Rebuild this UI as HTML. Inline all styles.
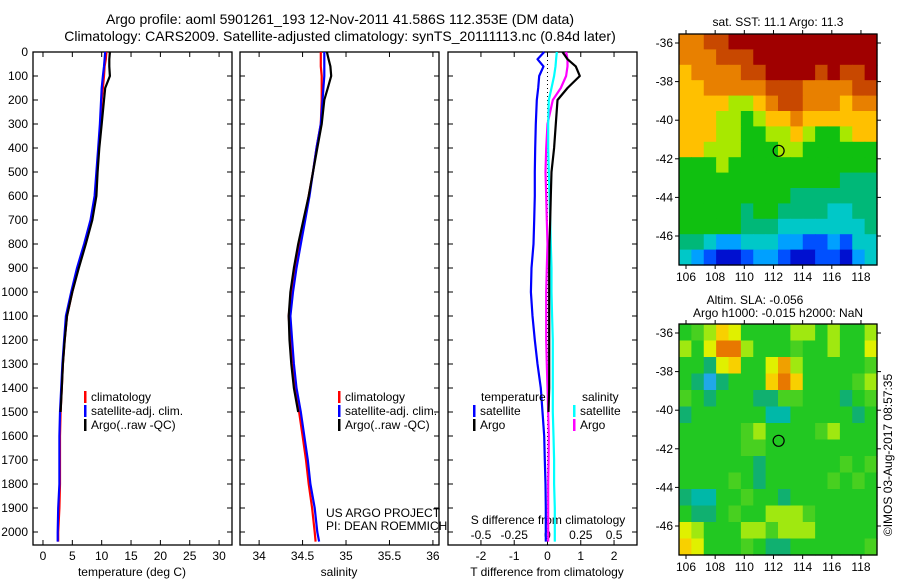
<!DOCTYPE html>
<html><head><meta charset="utf-8"><style>
body{margin:0;background:#fff;}
svg{display:block;font-family:"Liberation Sans",sans-serif;}
text{fill:#000;}
</style></head><body>
<svg id="c" width="900" height="580" viewBox="0 0 900 580" xmlns="http://www.w3.org/2000/svg">
<text x="340" y="24" font-size="14" text-anchor="middle">Argo profile: aoml 5901261_193 12-Nov-2011 41.586S 112.353E (DM data)</text>
<text x="340" y="41" font-size="14" text-anchor="middle">Climatology: CARS2009. Satellite-adjusted climatology: synTS_20111113.nc (0.84d later)</text>
<g id="g"></g>
</svg>
<script>
// depth levels
const depths=[0,30,60,100,150,200,300,400,500,600,700,800,900,1000,1100,1200,1300,1400,1500,1600,1700,1800,1900,2000,2040];
const tempArgo=[11.4,11.3,11.3,11.4,10.6,10.4,10.0,9.6,9.3,9.1,8.4,7.3,6.1,5.0,4.1,3.7,3.4,3.2,3.0,null,null,null,null,null,null];
const tempClim=[10.8,10.7,10.5,10.4,10.2,10.0,9.8,9.5,9.2,8.9,8.2,7.2,6.0,5.0,4.1,3.7,3.4,3.2,3.0,2.9,2.9,2.9,2.8,2.6,2.6];
const tempSat=[10.6,10.5,10.4,10.2,10.0,9.9,9.7,9.4,9.1,8.8,8.1,7.0,5.8,4.8,3.9,3.6,3.3,3.1,2.9,2.8,2.8,2.8,2.6,2.5,2.5];
const salArgo=[34.78,34.8,34.82,34.83,34.79,34.75,34.72,34.67,34.62,34.57,34.51,34.45,34.40,34.36,34.34,34.35,34.37,34.40,34.45,null,null,null,null,null,null];
const salClim=[34.71,34.71,34.71,34.72,34.72,34.72,34.71,34.66,34.62,34.57,34.52,34.46,34.41,34.37,34.34,34.36,34.38,34.41,34.46,34.50,34.54,34.57,34.61,34.64,34.65];
const salSat=[34.75,34.75,34.75,34.75,34.74,34.73,34.71,34.66,34.62,34.58,34.53,34.48,34.43,34.39,34.36,34.38,34.40,34.43,34.48,34.52,34.56,34.59,34.64,34.67,34.69];
const tDiffSat=[-0.1,-0.3,-0.12,-0.25,-0.28,-0.32,-0.35,-0.37,-0.38,-0.38,-0.4,-0.42,-0.48,-0.5,-0.45,-0.38,-0.3,-0.2,-0.15,-0.1,-0.08,-0.06,-0.05,-0.05,-0.05];
const tDiffArgo=[0.45,0.6,0.85,0.97,0.6,0.3,0.25,0.2,0.12,0.1,0.08,0.06,0.05,0.05,0.05,0.05,0.05,0.05,0.03,null,null,null,null,null,null];
const sDiffArgo=[0.14,0.15,0.15,0.14,0.1,0.04,0.0,-0.01,-0.015,-0.01,-0.005,0.0,-0.005,-0.01,-0.01,-0.01,-0.005,0.0,0.005,0.01,0.008,0.005,0.005,0.005,0.005];
const sDiffSat=[0.07,0.065,0.06,0.05,0.03,0.01,0.005,0.005,0.01,0.015,0.02,0.025,0.03,0.03,0.035,0.04,0.04,0.04,0.04,0.045,0.05,0.05,0.055,0.055,0.055];
const depthTicks=[0,100,200,300,400,500,600,700,800,900,1000,1100,1200,1300,1400,1500,1600,1700,1800,1900,2000];
const tempTicks=[0,5,10,15,20,25,30];
const salTicks=[34,34.5,35,35.5,36];
const tdTicks=[-2,-1,0,1,2];
const sdTicks=[-0.5,-0.25,0,0.25,0.5];
const sdLabels=["-0.5","-0.25","0","0.25","0.5"];
const lonTicks=[106,108,110,112,114,116,118];
const latTicks=[-36,-38,-40,-42,-44,-46];
// map grids (rows top->bottom, 16 cols)
const sstGrid=[
[6,6,7,7,8,8,8,8,8,8,8,8,8,8,8,8],
[6,6,6,7,7,7,8,8,8,8,8,8,8,8,8,8],
[5,6,6,6,6,7,7,8,8,8,8,7,8,7,7,8],
[5,5,6,6,6,6,6,7,7,7,6,6,6,6,7,7],
[5,5,5,5,4,4,5,6,7,7,6,6,6,5,6,6],
[5,5,5,4,4,3,4,5,5,6,5,5,5,5,5,5],
[5,5,5,4,4,3,3,4,4,5,4,3,3,4,5,5],
[5,5,4,4,4,3,3,3,4,4,3,3,3,3,3,3],
[3,3,3,4,3,3,3,3,3,3,3,3,3,3,3,3],
[3,3,3,3,3,3,3,3,3,3,3,3,3,2.5,2.5,2.5],
[3,3,3,3,3,3,3,3,3,2.5,2.5,2.5,2.5,2.5,2.5,2.5],
[3,3,3,3,3,2.5,3,3,2.5,2.5,2.5,2.5,2,2,2.5,2.5],
[3,3,3,3,3,2.5,2.5,2.5,2,2,2,2,2,2,2,2.5],
[2.5,2.5,2,1.5,1.5,2,2,2,1.5,1.5,1,1,1.5,1,2,2],
[2,1.5,1,0.5,0.5,1,1.5,1.5,1,0.5,0.5,1,1,0.5,1.5,2]];
const slaGrid=[
[3,3.5,4,5,4.5,3,3,3,3,4,4,3,4,3,3,4],
[4,3,4.5,6,6,4,3,3,3,3.5,3,3,4,3,3,4.5],
[3,3,2.5,4.5,5,3,3,4.5,5.5,4,3,3,3,3,3,3.5],
[3,2.5,1.5,2.5,3,3,3,5,6,5,3,3,3,3,3.5,4],
[3.5,3,2.5,3,3,3,2.5,2.5,3.5,3.5,3,3,3,2.5,3,3.5],
[2.5,3,3,3,3,3,3,2,2,3,3,3,3,3,2.5,3],
[3,3,3,3,3,3.5,4,3,3,3,3,3.5,4,3,3,3],
[3,3,3,3,3,3.5,3.5,3,3,3,3,3,3,3,3,3],
[3,3,3,3,3,3,2.5,3,3,3,3,3,3,3.5,3,3.5],
[3,3,3,3,3.5,3,2.5,3,3,3,3,3,3.5,3,3.5,3],
[2.5,2,2,3,3,3.5,3,3,2.5,3,3,3,3,3,3,3],
[3,2.5,2.5,3,3.5,3,3,4,4,4,3.5,3,3,3,3,3],
[4.5,4,3,3,3,4,4,3.5,4,4,4,3,3,3,3,3],
[5,4.5,3,3,3,3.5,3,2.5,2.5,3,3,3,3,3,3,3.5]];
const sstColors={0:'#00008f',0.5:'#0010d0',1:'#0050ff',1.5:'#00a0ff',2:'#00c8c8',2.5:'#00b878',3:'#10c010',3.5:'#60d810',4:'#a8e800',4.5:'#e0f000',5:'#ffc000',5.5:'#f8a000',6:'#e88000',7:'#c84800',8:'#a00000'};
const slaColors={1.5:'#20a8e8',2:'#00b8a8',2.5:'#10b070',3:'#22c822',3.5:'#48d020',4:'#a0e810',4.5:'#e0f000',5:'#f8d000',5.5:'#f0a000',6:'#e87800'};

const NS="http://www.w3.org/2000/svg";
const G=document.getElementById('g');
function el(t,a,p){const e=document.createElementNS(NS,t);for(const k in a)e.setAttribute(k,a[k]);(p||G).appendChild(e);return e;}
function txt(s,x,y,a,p){const e=el('text',Object.assign({x:x,y:y,'font-size':12},a||{}),p);e.textContent=s;return e;}
const Y0=52,YS=0.24,YB=545;
const yS=d=>Y0+d*YS;
const panels=[
 {name:'temperature',x0:33,x1:232,min:-1.7,max:32.2},
 {name:'salinity',x0:240,x1:439,min:33.78,max:36.07},
 {name:'difference',x0:448,x1:637,min:-2.99,max:2.69}];
panels.forEach(p=>{p.sx=v=>p.x0+(v-p.min)/(p.max-p.min)*(p.x1-p.x0);});
function frame(p){
 const r=el('rect',{x:p.x0,y:Y0,width:p.x1-p.x0,height:YB-Y0,fill:'none',stroke:'#000','stroke-width':1.3});
 
 
 depthTicks.forEach(d=>{
  el('line',{x1:p.x0,x2:p.x0+5,y1:yS(d),y2:yS(d),stroke:'#000'});
  el('line',{x1:p.x1,x2:p.x1-5,y1:yS(d),y2:yS(d),stroke:'#000'});
 });
}
panels.forEach(frame);
depthTicks.forEach(d=>{const t=txt(String(d),28,yS(d)+4,{'text-anchor':'end'});
 
 });
function xticks(p,ticks,labels,y,top){
 ticks.forEach((v,i)=>{const x=p.sx(v);
  el('line',{x1:x,x2:x,y1:YB,y2:YB-5,stroke:'#000'});
  if(top)el('line',{x1:x,x2:x,y1:Y0,y2:Y0+5,stroke:'#000'});
  const t=txt(labels?labels[i]:String(v),x,y,{'text-anchor':'middle'});
  
  });
}
xticks(panels[0],tempTicks,null,560,true);
xticks(panels[1],salTicks,null,560,true);
xticks(panels[2],tdTicks,null,560,true);
const pd=panels[2];
sdTicks.forEach((v,i)=>{const t=txt(sdLabels[i],pd.sx(v*4),539,{'text-anchor':'middle'});
 
 });
const xl=[['temperature (deg C)',132,'temperature-axis-title'],['salinity',339,'salinity-axis-title'],['T difference from climatology',547,'t-difference-axis-title']];
xl.forEach(a=>{const t=txt(a[0],a[1],576,{'text-anchor':'middle'});});
{const t=txt('S difference from climatology',548,524,{'text-anchor':'middle'});}
el('line',{x1:pd.sx(0),x2:pd.sx(0),y1:Y0,y2:YB,stroke:'#000','stroke-dasharray':'1,3'});
function line(p,vals,color,name,scale){
 let d='';let pen=false;
 vals.forEach((v,i)=>{if(v===null){pen=false;return;}
  d+=(pen?'L':'M')+p.sx(v*(scale||1)).toFixed(1)+','+yS(depths[i]).toFixed(1);pen=true;});
 const e=el('path',{d:d,fill:'none',stroke:color,'stroke-width':2.2,'stroke-linejoin':'round'});
 
 
}
line(panels[0],tempClim,'#ff0000','temp-climatology-line');
line(panels[0],tempSat,'#0000ff','temp-satellite-line');
line(panels[0],tempArgo,'#000','temp-argo-line');
line(panels[1],salClim,'#ff0000','sal-climatology-line');
line(panels[1],salSat,'#0000ff','sal-satellite-line');
line(panels[1],salArgo,'#000','sal-argo-line');
line(pd,sDiffArgo,'#ff00ff','s-diff-argo-line',4);
line(pd,sDiffSat,'#00ffff','s-diff-satellite-line',4);
line(pd,tDiffSat,'#0000ff','t-diff-satellite-line');
line(pd,tDiffArgo,'#000','t-diff-argo-line');
function legend(x,y,items){items.forEach((it,i)=>{
 el('rect',{x:x,y:y+i*14-6,width:2.5,height:12,fill:it[1]});
 const t=txt(it[0],x+7,y+i*14+4);
 
 });}
legend(84,397,[['climatology','#f00'],['satellite-adj. clim.','#00f'],['Argo(..raw -QC)','#000']]);
legend(338,397,[['climatology','#f00'],['satellite-adj. clim.','#00f'],['Argo(..raw -QC)','#000']]);
{const t=txt('temperature',481,401);}
{const t=txt('salinity',582,401);}
legend(473,411,[['satellite','#00f'],['Argo','#000']]);
legend(573,411,[['satellite','#0ff'],['Argo','#f0f']]);
{const t=txt('US ARGO PROJECT',326,517);}
{const t=txt('PI: DEAN ROEMMICH',326,530);}
function mapPanel(x0,y0,w,h,grid,name,colors){
 const g=el('g',{});
 
 
 const rows=grid.length,cols=grid[0].length;const cw=w/cols,ch=h/rows;
 grid.forEach((r,i)=>r.forEach((v,j)=>{
  const c=colors[v]||'#22c822';
  const e=el('rect',{x:(x0+j*cw).toFixed(2),y:(y0+i*ch).toFixed(2),width:(cw+0.6).toFixed(2),height:(ch+0.6).toFixed(2),fill:c},g);
  
  
 }));
 el('rect',{x:x0,y:y0,width:w,height:h,fill:'none',stroke:'#000','stroke-width':1.3});
 const lx=v=>686+(v-106)*14.58, ly=v=>y0+9+(-36-v)*19.3;
 lonTicks.forEach(v=>{el('line',{x1:lx(v),x2:lx(v),y1:y0,y2:y0-4,stroke:'#000'});el('line',{x1:lx(v),x2:lx(v),y1:y0+h,y2:y0+h+4,stroke:'#000'});
  const t=txt(String(v),lx(v),y0+h+16,{'text-anchor':'middle'});});
 latTicks.forEach(v=>{el('line',{x1:x0,x2:x0-4,y1:ly(v),y2:ly(v),stroke:'#000'});el('line',{x1:x0+w,x2:x0+w+4,y1:ly(v),y2:ly(v),stroke:'#000'});
  const t=txt(String(v),x0-6,ly(v)+4,{'text-anchor':'end'});});
 const m=el('circle',{cx:lx(112.353),cy:ly(-41.586),r:5.5,fill:'none',stroke:'#000','stroke-width':1.2});
 
 
}
mapPanel(679,34,198,231,sstGrid,'sst-map',sstColors);
mapPanel(679,324,198,231,slaGrid,'sla-map',slaColors);
{const t=txt('sat. SST: 11.1  Argo: 11.3',778,26,{'text-anchor':'middle'});}
{const t=txt('Altim. SLA: -0.056',755,304,{'text-anchor':'middle'});}
{const t=txt('Argo h1000: -0.015 h2000: NaN',778,317,{'text-anchor':'middle'});}
{const t=txt('©IMOS 03-Aug-2017 08:57:35',0,0,{'text-anchor':'middle',transform:'translate(892,455) rotate(-90)'});}
</script>
</body></html>
